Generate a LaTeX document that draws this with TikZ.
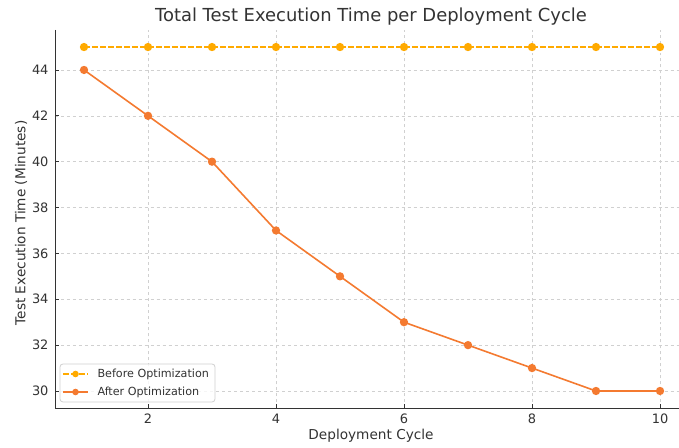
\documentclass[tikz,border=0pt]{standalone}
\usepackage{fontspec}
\setmainfont{DejaVu Sans}
\usepackage{xcolor}
\usepackage{tikz}
\usetikzlibrary{arrows.meta, positioning}
\definecolor{borange}{HTML}{FFAA00}
\definecolor{aorange}{HTML}{F47A30}
\definecolor{axgray}{HTML}{333333}
\definecolor{gridgray}{HTML}{D0D0D0}

\begin{document}
\begin{tikzpicture}[x=1bp, y=1bp]
\useasboundingbox (0,0) rectangle (679,448);
\fill[white] (0,0) rectangle (679,448);
\node[font=\fontsize{18}{20}\selectfont, text=axgray] (title) at (371,431) {Total Test Execution Time per Deployment Cycle};
\node[font=\fontsize{13.7}{15}\selectfont, text=axgray] (xlabel) at (371,12) {Deployment Cycle};
\node[font=\fontsize{13.7}{15}\selectfont, text=axgray, rotate=90] (ylabel) at (21,225) {Test Execution Time (Minutes)};
\begin{scope}[shift={(20,-630.9)}, x=64bp, y=22.93bp]
\foreach \m in {30,32,...,44} {
  \draw[gridgray, dashed, line width=0.6pt] (0.547,\m) -- (10.3,\m);
  \draw[axgray, line width=0.8pt] (0.547,\m) -- ++(4bp,0);
  \node[font=\fontsize{13}{14}\selectfont, text=axgray, anchor=east] (ytick\m) at ([xshift=-3bp]0.547,\m) {\m};
}
\foreach \c in {2,4,...,10} {
  \draw[gridgray, dashed, line width=0.6pt] (\c,29.25) -- (\c,45.75);
  \draw[axgray, line width=0.8pt] (\c,29.25) -- ++(0,4bp);
  \node[font=\fontsize{13}{14}\selectfont, text=axgray, anchor=north] (xtick\c) at ([yshift=-2bp]\c,29.25) {\c};
}
\draw[axgray, line width=1pt] (0.547,45.75) -- (0.547,29.25) -- (10.3,29.25);
\draw[borange, line width=1.6pt, dash pattern=on 5.5bp off 2.5bp, mark=*, mark size=3.3bp,
  mark options={solid, fill=borange, draw=borange}]
  plot coordinates {(1,45) (2,45) (3,45) (4,45) (5,45) (6,45) (7,45) (8,45) (9,45) (10,45)};
\draw[aorange, line width=1.6pt, mark=*, mark size=3.3bp, mark options={fill=aorange, draw=aorange}]
  plot coordinates {(1,44) (2,42) (3,40) (4,37) (5,35) (6,33) (7,32) (8,31) (9,30) (10,30)};
\end{scope}
\fill[white, fill opacity=0.8, draw=gridgray, draw opacity=1, rounded corners=3bp, line width=0.8pt] (60,46) rectangle (215,84);
\draw[borange, line width=1.6pt, dash pattern=on 5.5bp off 2.5bp] (63,74) -- (88,74);
\fill[borange] (75.5,74) circle (3.3bp);
\node[font=\fontsize{11.2}{12}\selectfont, text=axgray, anchor=west] (lbefore) at (94,74) {Before Optimization};
\draw[aorange, line width=1.6pt] (63,56) -- (88,56);
\fill[aorange] (75.5,56) circle (3.3bp);
\node[font=\fontsize{11.2}{12}\selectfont, text=axgray, anchor=west] (lafter) at (94,56) {After Optimization};
\end{tikzpicture}
\end{document}
